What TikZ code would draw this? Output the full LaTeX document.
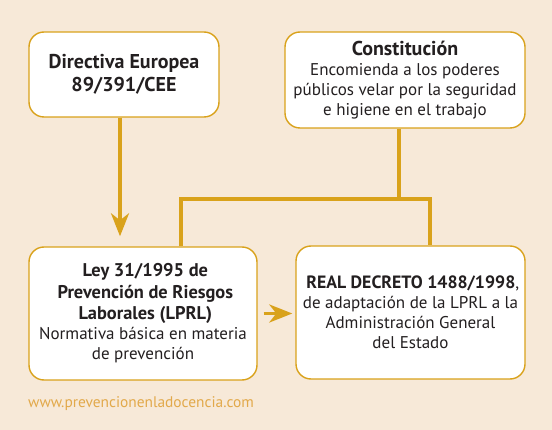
\documentclass[tikz,border=0pt]{standalone}
\usepackage{fontspec}
\setmainfont{PT Sans}
\usepackage{xcolor}
\usepackage{tikz}
\usetikzlibrary{arrows.meta, positioning}

\definecolor{fondo}{HTML}{F7E9D8}
\definecolor{oro}{HTML}{D9A21B}
\definecolor{web}{HTML}{E2A94A}
\definecolor{texto}{HTML}{231F20}

\tikzset{
    caja/.style={draw=oro, line width=1.4pt, fill=white, rounded corners=15pt,
        align=center, inner sep=0pt, text=texto, font=\cuerpo},
    enlace/.style={draw=oro, line width=3.6pt, line join=miter},
    flecha/.style={enlace, -{Stealth[length=23pt, width=18pt, inset=7pt]}}
}

\newcommand{\titulo}[1][20]{\fontsize{#1}{20}\selectfont\bfseries}
\newcommand{\cuerpo}{\fontsize{17}{20}\selectfont}

\begin{document}
\begin{tikzpicture}[x=1pt, y=-1pt]
    % Fondo
    \fill[fondo] (0,0) rectangle (552,430);
    \useasboundingbox (0,0) rectangle (552,430);

    % Cajas
    \node[caja, minimum width=190pt, minimum height=85pt] (dir) at (124,74.5)
        {\titulo Directiva Europea\\[3pt] \titulo 89/391/CEE};
    \node[caja, minimum width=240pt, minimum height=96pt] (const) at (405,80)
        {\titulo Constitución\\[0pt]
         Encomienda a los poderes\\ públicos velar por la seguridad\\
         e higiene en el trabajo};
    \node[caja, minimum width=228pt, minimum height=133pt] (ley) at (143,313.5)
        {\titulo[18.4] Ley 31/1995 de\\[2pt] \titulo[18.4] Prevención de Riesgos\\[1pt]
         \titulo[18.4] Laborales (LPRL)\\
         Normativa básica en materia\\ de prevención};
    \node[caja, minimum width=229pt, minimum height=133pt] (rd) at (410.5,312.5)
        {{\titulo[17.8] REAL DECRETO 1488/1998},\\
         de adaptación de la LPRL a la\\ Administración General\\
         del Estado};

    % Conexiones
    \coordinate (junta) at (399,199);
    \coordinate (izq) at (181,199);
    \coordinate (der) at (430,199);
    \draw[enlace] (const.south -| junta) -- (junta);
    \draw[enlace] (ley.north -| izq) -- (izq) -- (der) -- (rd.north -| der);

    \draw[flecha, shorten >=10pt] ([xshift=-4pt]dir.south) -- ([xshift=-4pt]dir.south |- ley.north);
    \draw[flecha, shorten <=6pt, shorten >=3pt] (ley.east) -- (ley.east -| rd.west);

    % Pie
    \node[anchor=west, inner sep=0pt, text=web, font=\fontsize{15.4}{18}\selectfont] (pie) at (28,404)
        {www.prevencionenladocencia.com};
\end{tikzpicture}
\end{document}
